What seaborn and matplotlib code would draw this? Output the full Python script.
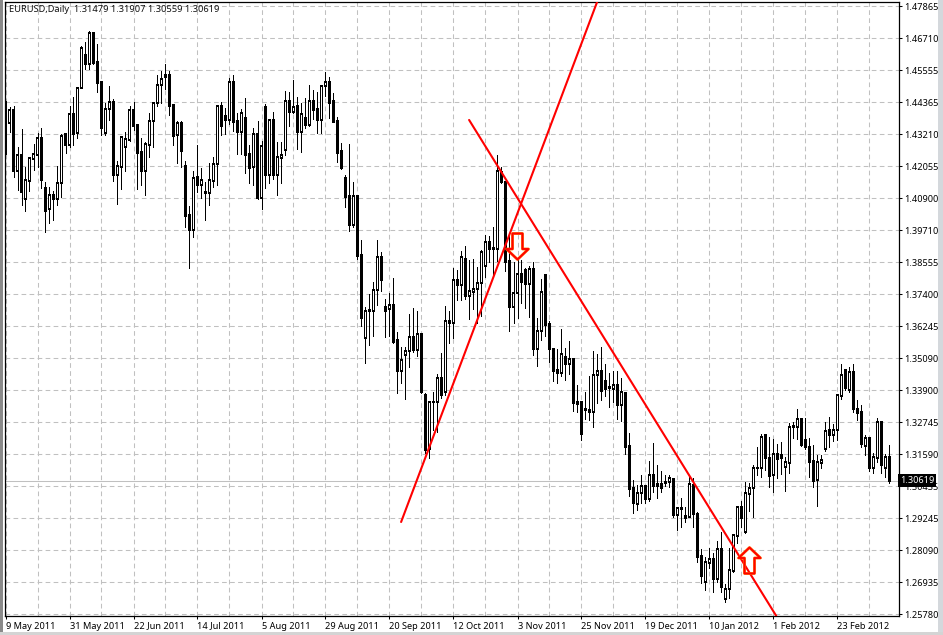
import numpy as np
import pandas as pd
import seaborn as sns
import matplotlib
matplotlib.use("Agg")
import matplotlib.pyplot as plt
from matplotlib.patches import Rectangle
from matplotlib.path import Path

# Prices are quoted in 1/10000 of a unit (14364 = 1.4364)
body_top = [
14364,14407,14407,14243,14243,14153,14233,14246,14304,14304,
14123,14099,14099,14141,14313,14319,14392,14392,14486,14631,
14607,14686,14686,14581,14509,14410,14435,14435,14204,14308,
14301,14406,14406,14353,14254,14284,14366,14431,14497,14519,
14534,14534,14424,14359,14360,14204,14026,14159,14163,14152,
14110,14152,14210,14420,14420,14385,14508,14508,14366,14395,
14377,14247,14319,14319,14275,14417,14371,14370,14235,14243,
14439,14439,14419,14420,14391,14377,14439,14439,14410,14494,
14508,14508,14439,14366,14257,14159,14095,14094,14095,13880,
13676,13680,13753,13872,13872,13691,13698,13698,13571,13499,
13531,13582,13582,13593,13594,13371,13346,13347,13433,13433,
13640,13640,13789,13789,13875,13865,13749,13756,13778,13891,
13927,13927,13906,14185,14182,14147,13858,13744,13811,13811,
13826,13829,13829,13604,13745,13807,13629,13538,13462,13520,
13509,13502,13502,13346,13346,13321,13317,13444,13459,13459,
13422,13402,13408,13408,13382,13379,13188,13035,13016,13042,
13042,13081,13082,13050,13050,13057,13071,13068,12961,12961,
12933,13048,13046,12941,12788,12766,12776,12776,12812,12812,
12668,12737,12864,12967,12967,13016,13034,13106,13108,13219,
13226,13143,13157,13157,13155,13129,13258,13260,13284,13285,
13209,13185,13133,13131,13137,13242,13246,13246,13373,13444,
13463,13455,13456,13321,13311,13215,13217,13146,13273,13276,
13146,13146]
body_bot = [
14356,14361,14187,14187,14111,14085,14151,14231,14245,14153,
14042,14047,14083,14083,14141,14279,14279,14320,14325,14486,
14573,14573,14577,14504,14343,14322,14410,14172,14172,14199,
14274,14298,14350,14252,14185,14187,14281,14366,14431,14497,
14528,14423,14314,14315,14260,14022,13972,13972,14135,14136,
14107,14107,14151,14210,14349,14372,14372,14365,14327,14327,
14244,14198,14202,14089,14089,14171,14171,14171,14172,14234,
14263,14401,14401,14327,14329,14353,14352,14407,14372,14372,
14495,14434,14364,14252,14198,14093,13990,13990,13877,13652,
13581,13676,13676,13753,13791,13679,13684,13565,13461,13461,
13519,13531,13537,13537,13384,13173,13175,13346,13346,13373,
13385,13635,13635,13773,13773,13733,13733,13748,13756,13778,
13840,13904,13901,13901,14145,13857,13693,13693,13744,13784,
13774,13774,13538,13538,13604,13628,13538,13461,13454,13454,
13486,13486,13342,13341,13232,13317,13312,13312,13444,13388,
13396,13399,13396,13338,13338,13185,13033,12982,12978,13016,
12996,12996,13044,13044,13036,13053,13056,12937,12937,12958,
12926,12931,12941,12786,12716,12693,12764,12706,12706,12677,
12633,12668,12735,12862,12927,12875,13014,13034,13106,13106,
13143,13079,13081,13141,13143,13112,13127,13258,13258,13192,
13183,13131,13062,13064,13127,13178,13227,13229,13246,13370,
13397,13391,13321,13309,13195,13187,13106,13109,13145,13119,
13109,13062]
wick_high = [
14441,14419,14422,14274,14337,14202,14238,14284,14323,14341,
14147,14129,14114,14204,14319,14319,14422,14453,14486,14640,
14653,14695,14689,14647,14509,14434,14494,14447,14221,14308,
14329,14422,14437,14356,14306,14292,14395,14437,14533,14548,
14574,14550,14424,14369,14369,14223,14059,14187,14279,14195,
14147,14214,14235,14420,14436,14413,14522,14533,14395,14410,
14450,14280,14341,14367,14296,14428,14375,14399,14290,14290,
14475,14471,14516,14453,14434,14450,14497,14479,14471,14498,
14544,14528,14468,14381,14286,14171,14284,14145,14097,13935,
13693,13739,13782,13935,13892,13720,13742,13796,13601,13548,
13548,13667,13687,13676,13594,13379,13346,13384,13449,13526,
13696,13679,13832,13826,13897,13914,13863,13865,13836,13899,
13953,13950,13984,14244,14199,14147,13960,13857,13869,13863,
13832,13841,13857,13651,13792,13807,13641,13538,13538,13611,
13542,13567,13502,13409,13348,13385,13442,13532,13522,13546,
13484,13451,13461,13461,13433,13379,13234,13064,13046,13082,
13042,13134,13200,13119,13098,13081,13082,13068,12967,12998,
12967,13076,13070,12947,12812,12786,12816,12798,12844,12876,
12687,12816,12868,12970,12989,13058,13052,13118,13185,13231,
13226,13221,13212,13195,13203,13146,13272,13276,13321,13288,
13288,13215,13191,13155,13155,13276,13292,13267,13373,13485,
13466,13476,13484,13355,13336,13227,13219,13161,13288,13279,
13158,13191]
wick_low = [
14247,14329,14165,14117,14062,14042,14114,14189,14202,14123,
13966,13998,14008,14064,14093,14252,14272,14279,14304,14486,
14555,14557,14574,14473,14317,14317,14371,14151,14066,14122,
14187,14296,14335,14122,14136,14099,14235,14274,14422,14431,
14482,14389,14280,14214,14199,13984,13835,13947,14111,14088,
14008,14062,14129,14135,14318,14320,14356,14332,14247,14247,
14180,14143,14135,14084,14048,14124,14143,14157,14100,14141,
14244,14349,14395,14266,14256,14342,14349,14375,14325,14325,
14458,14377,14364,14218,14194,14056,13969,13984,13868,13623,
13490,13554,13587,13699,13751,13584,13587,13560,13381,13415,
13359,13476,13530,13515,13379,13163,13143,13246,13240,13361,
13373,13563,13578,13718,13718,13721,13649,13684,13633,13661,
13802,13857,13808,13860,14141,13824,13606,13633,13653,13708,
13687,13657,13519,13479,13572,13588,13494,13423,13417,13442,
13427,13449,13316,13312,13209,13284,13282,13258,13345,13355,
13370,13330,13348,13286,13278,13159,13007,12946,12955,12982,
12979,12989,13022,13000,13021,13042,13040,12931,12883,12895,
12913,12929,12895,12768,12691,12665,12743,12659,12695,12659,
12622,12634,12731,12834,12895,12873,12953,12929,13082,13076,
13100,13040,13022,13070,13086,13025,13091,13215,13212,13187,
13177,13076,13040,12970,13106,13171,13185,13207,13209,13357,
13391,13385,13312,13282,13185,13155,13098,13091,13131,13091,
13074,13054]
direction = ("BWBWBWWWWB" "BWBWWBWBWW" "BWBBBWWBWW" "WWBBBWWWWW" "BBBWBBBWBW"
             "BWWWBBWBBW" "BBWBWBWBWW" "WBWBWBWBBW" "WBBBBBBWBB" "WBWWBBWBBW"
             "WWBWBBWBWB" "WBWBWBWWWW" "WBBWBBBWWB" "BWBWWBBBBW" "BWBBBBWWWB"
             "BBWBWBBBWW" "BWBBBBWBWB" "BWBBBWWBWB" "WWWWBWWWBW" "BBWBBWWBWB"
             "BBBWWWBWWW" "BWBBBWBWWB" "WB")

date_labels = ["9 May 2011", "31 May 2011", "22 Jun 2011", "14 Jul 2011", "5 Aug 2011",
               "29 Aug 2011", "20 Sep 2011", "12 Oct 2011", "3 Nov 2011", "25 Nov 2011",
               "19 Dec 2011", "10 Jan 2012", "1 Feb 2012", "23 Feb 2012"]
price_labels = ["1.47865", "1.46710", "1.45555", "1.44365", "1.43210", "1.42055", "1.40900",
                "1.39710", "1.38555", "1.37400", "1.36245", "1.35090", "1.33900", "1.32745",
                "1.31590", "1.30435", "1.29245", "1.28090", "1.26935", "1.25780"]
grid_prices = [1.47836, 1.46674, 1.45513, 1.44351, 1.43189, 1.42028, 1.40866, 1.39705, 1.38543,
               1.37381, 1.36220, 1.35058, 1.33896, 1.32735, 1.31573, 1.30412, 1.29250, 1.28088,
               1.26927, 1.25765]
last_close = 1.30619
title_text = "EURUSD,Daily  1.31479 1.31907 1.30559 1.30619"

trend_up_x, trend_up_y = [98.9, 147.9], [1.29116, 1.47992]
trend_down_x, trend_down_y = [115.9, 192.7], [1.43710, 1.25704]
sell_x, sell_y = [127.9], [1.39135]
buy_x, buy_y = [185.9], [1.27719]

W, H = 943, 635
sns.set_style("white")
plt.rcParams["font.family"] = ["Noto Sans", "DejaVu Sans"]
fig = plt.figure(figsize=(W / 100, H / 100), dpi=100, facecolor="white")
ax = fig.add_axes([4.5 / W, (H - 616) / H, (898.7 - 4.5) / W, (616 - 2) / H])
ax.set_facecolor("white")

# window chrome
for (x0, y0, w, h, c) in [(0, 0, 2.5, H, "#8a8a8a"), (938, 0, 5, H, "#d4d8dc"), (0, 0, W, 3, "#d4d4d4")]:
    fig.add_artist(Rectangle((x0 / W, y0 / H), w / W, h / H, transform=fig.transFigure, color=c, lw=0))

df = pd.DataFrame({"i": np.arange(len(body_top)),
                   "top": np.array(body_top) / 1e4, "bot": np.array(body_bot) / 1e4,
                   "hi": np.array(wick_high) / 1e4, "lo": np.array(wick_low) / 1e4,
                   "dir": list(direction)})

grid_kw = dict(color="#c0c0c0", lw=0.75, ls=(0, (4.5, 3.2)))
ax.set_axisbelow(True)
ax.set_xticks(np.arange(len(date_labels)) * 16)
ax.set_xticklabels(date_labels, ha="left", fontsize=6.6, color="black")
ax.set_xticks(np.arange(8, 222, 16), minor=True)
ax.grid(True, which="both", **grid_kw)
ax.set_yticks(grid_prices)
ax.set_yticklabels(price_labels, fontsize=6.6, color="black")
ax.yaxis.tick_right()
ax.tick_params(axis="x", which="major", length=2.5, width=0.75, pad=1.5, bottom=True, color="black")
ax.tick_params(axis="x", which="minor", length=0)
ax.tick_params(axis="y", length=2.5, width=0.75, pad=1.5, right=True, color="black")
for s in ax.spines.values():
    s.set_visible(True)
    s.set_color("black")
    s.set_linewidth(0.9)

ax.axhline(last_close, color="#c0c0c0", lw=0.75, zorder=1.5)

ax.vlines(df["i"], df["lo"], df["hi"], color="black", lw=0.72, zorder=2, antialiased=False)
fc = ["white" if d == "W" else "black" for d in df["dir"]]
bars = ax.bar(df["i"], df["top"] - df["bot"], bottom=df["bot"], width=0.5, color=fc,
              edgecolor="black", linewidth=0.72, zorder=3, antialiased=False)
for b in bars:
    b.set_snap(False)

sns.lineplot(x=trend_up_x, y=trend_up_y, ax=ax, color="#ff0000", lw=1.5, zorder=4,
             estimator=None, sort=False, legend=False)
sns.lineplot(x=trend_down_x, y=trend_down_y, ax=ax, color="#ff0000", lw=1.5, zorder=4,
             estimator=None, sort=False, legend=False)

down_arrow = Path([(-5, 13), (5, 13), (5, -2.5), (11, -2.5), (0, -13), (-11, -2.5), (-5, -2.5), (-5, 13)], closed=True)
up_arrow = Path([(-5, -13), (5, -13), (5, 2.5), (11, 2.5), (0, 13), (-11, 2.5), (-5, 2.5), (-5, -13)], closed=True)
for xs, ys, mk in [(sell_x, sell_y, down_arrow), (buy_x, buy_y, up_arrow)]:
    ax.plot(xs, ys, ls="none", marker=mk, ms=18.7, mfc="none", mec="#ff6a00", mew=2.0, zorder=5)
    ax.plot(xs, ys, ls="none", marker=mk, ms=18.7, mfc="none", mec="#ff0000", mew=1.3, zorder=5.1)

ax.set_xlim(-0.25, 223.3)
ax.set_ylim(1.25704, 1.47992)
ax.set_xlabel("")
ax.set_ylabel("")

ax.text(9 / W, (H - 9.5) / H, title_text, transform=fig.transFigure, fontsize=6.7,
        color="#111111", ha="left", va="center", zorder=6)
ax.text(1.0018, last_close, "1.30619", transform=ax.get_yaxis_transform(), fontsize=6.6,
        color="white", ha="left", va="center", clip_on=False, zorder=10,
        bbox=dict(boxstyle="square,pad=0.2", fc="black", ec="black", lw=0))

fig.savefig("out.png", dpi=100, facecolor=fig.get_facecolor())
